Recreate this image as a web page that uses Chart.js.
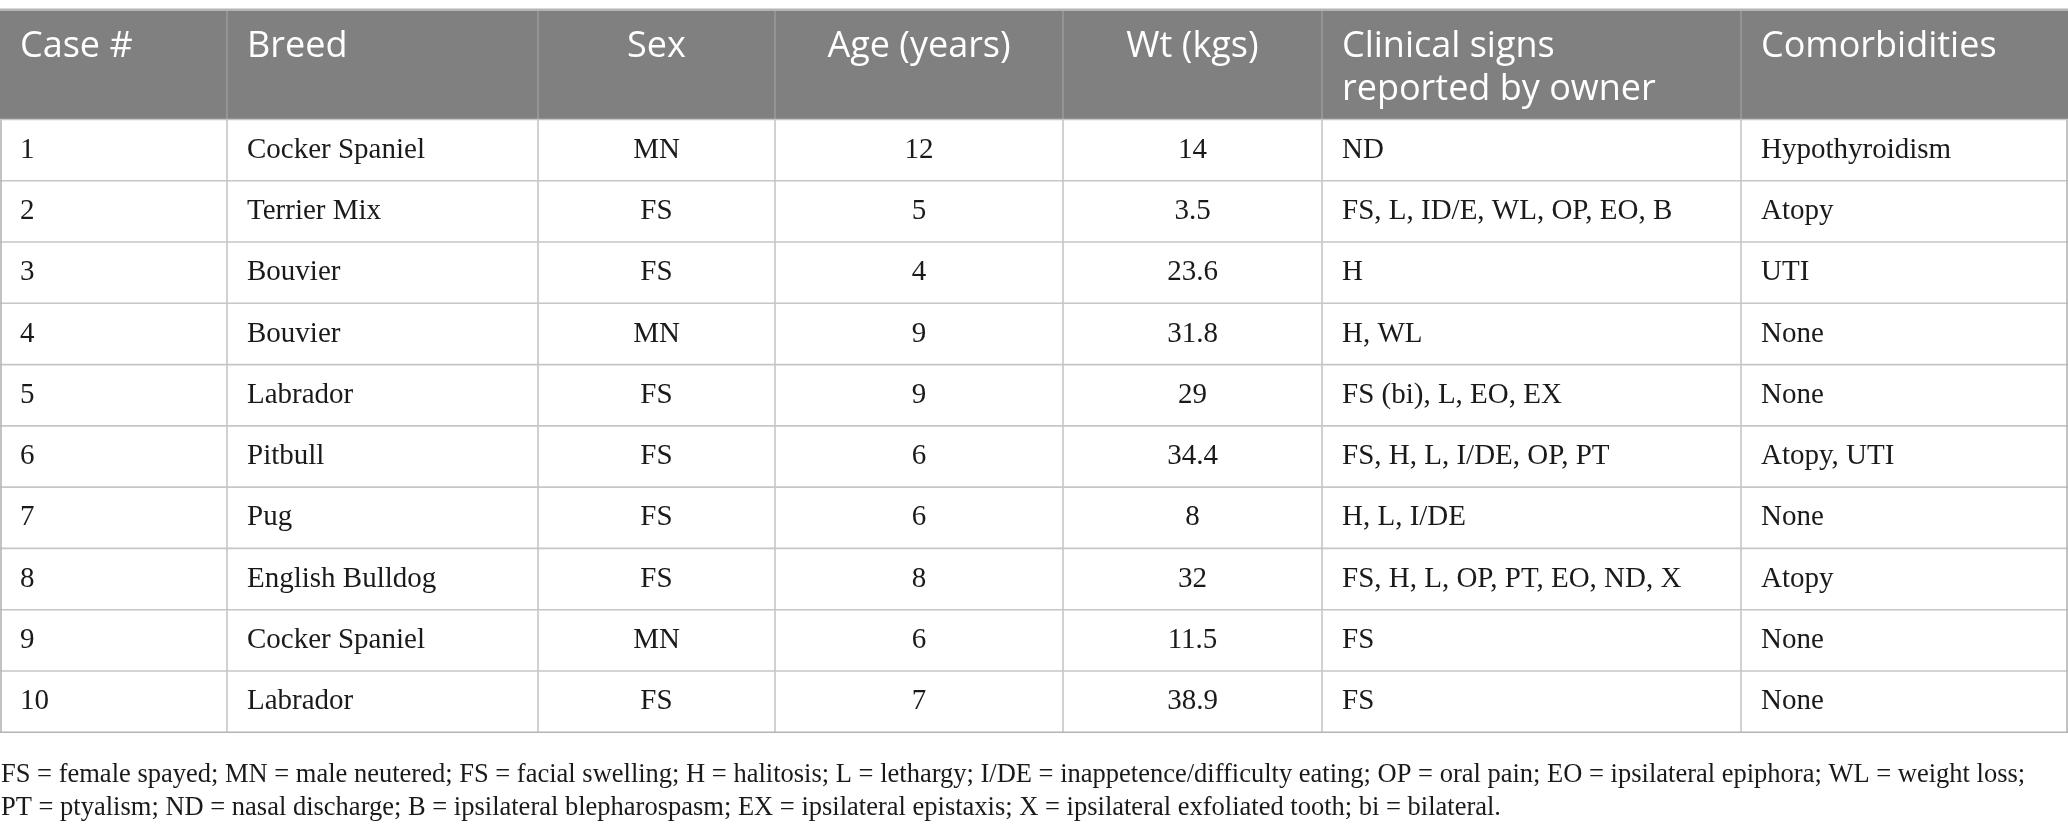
<!DOCTYPE html>
<html>
<head>
<meta charset="utf-8">
<script src="https://cdn.jsdelivr.net/npm/chart.js@4"></script>
<style>
  html, body { margin: 0; padding: 0; background: #ffffff; }
  #wrap { width: 2068px; height: 826px; }
</style>
</head>
<body>
<div id="wrap"><canvas id="table-chart" width="2068" height="826"></canvas></div>
<script>
// Table content
const headers = ['Case #', 'Breed', 'Sex', 'Age (years)', 'Wt (kgs)', 'Clinical signs\nreported by owner', 'Comorbidities'];
const caseNums = ['1', '2', '3', '4', '5', '6', '7', '8', '9', '10'];
const breeds = ['Cocker Spaniel', 'Terrier Mix', 'Bouvier', 'Bouvier', 'Labrador', 'Pitbull', 'Pug', 'English Bulldog', 'Cocker Spaniel', 'Labrador'];
const sexes = ['MN', 'FS', 'FS', 'MN', 'FS', 'FS', 'FS', 'FS', 'MN', 'FS'];
const ages = ['12', '5', '4', '9', '9', '6', '6', '8', '6', '7'];
const weights = ['14', '3.5', '23.6', '31.8', '29', '34.4', '8', '32', '11.5', '38.9'];
const clinicalSigns = ['ND', 'FS, L, ID/E, WL, OP, EO, B', 'H', 'H, WL', 'FS (bi), L, EO, EX', 'FS, H, L, I/DE, OP, PT', 'H, L, I/DE', 'FS, H, L, OP, PT, EO, ND, X', 'FS', 'FS'];
const comorbidities = ['Hypothyroidism', 'Atopy', 'UTI', 'None', 'None', 'Atopy, UTI', 'None', 'Atopy', 'None', 'None'];
const footnotes = [
    'FS = female spayed; MN = male neutered; FS = facial swelling; H = halitosis; L = lethargy; I/DE = inappetence/difficulty eating; OP = oral pain; EO = ipsilateral epiphora; WL = weight loss;',
    'PT = ptyalism; ND = nasal discharge; B = ipsilateral blepharospasm; EX = ipsilateral epistaxis; X = ipsilateral exfoliated tooth; bi = bilateral.'
];

// Layout (x in column units of the x scale, y in row units of the y scale)
const colWidths = [227, 311, 237, 288, 259, 419, 327];
const colAlign = ['left', 'left', 'center', 'center', 'center', 'left', 'left'];
const headerSpan = 1.78;
const cellPad = 20;

const columns = [caseNums, breeds, sexes, ages, weights, clinicalSigns, comorbidities];
const colEdges = colWidths.reduce((acc, w) => { acc.push(acc[acc.length - 1] + w); return acc; }, [0]);

const tablePlugin = {
    id: 'tableDraw',
    afterDraw(chart) {
        const ctx = chart.ctx;
        const xs = chart.scales.x;
        const ys = chart.scales.y;
        const left = xs.getPixelForValue(0);
        const right = xs.getPixelForValue(colEdges[colEdges.length - 1]);
        const headTop = ys.getPixelForValue(-headerSpan);
        const headBottom = ys.getPixelForValue(0);
        const tableBottom = ys.getPixelForValue(caseNums.length);

        ctx.save();

        // header band
        ctx.fillStyle = '#7f807f';
        ctx.fillRect(left, headTop, right - left, headBottom - headTop);

        // header text
        ctx.fillStyle = '#ffffff';
        ctx.font = '36px "Open Sans", "Noto Sans", sans-serif';
        ctx.textBaseline = 'middle';
        headers.forEach((h, c) => {
            const lines = h.split('\n');
            lines.forEach((line, k) => {
                const yy = ys.getPixelForValue(-1.18 + k * 0.69);
                drawCellText(ctx, xs, c, line, yy);
            });
        });

        // body text
        ctx.fillStyle = '#1a1a1a';
        ctx.font = '29px "Liberation Serif", "DejaVu Serif", serif';
        columns.forEach((col, c) => {
            col.forEach((val, r) => {
                drawCellText(ctx, xs, c, val, ys.getPixelForValue(r + 0.5));
            });
        });

        // grid lines
        ctx.strokeStyle = '#c6c6c6';
        ctx.lineWidth = 1.6;
        for (let r = 1; r < caseNums.length; r++) {
            const yy = ys.getPixelForValue(r);
            ctx.beginPath(); ctx.moveTo(left, yy); ctx.lineTo(right, yy); ctx.stroke();
        }
        for (let c = 1; c < colEdges.length - 1; c++) {
            const xx = xs.getPixelForValue(colEdges[c]);
            ctx.beginPath(); ctx.moveTo(xx, headBottom); ctx.lineTo(xx, tableBottom); ctx.stroke();
        }
        // separators inside header
        ctx.strokeStyle = 'rgba(205,205,205,0.45)';
        ctx.lineWidth = 1.2;
        for (let c = 1; c < colEdges.length - 1; c++) {
            const xx = xs.getPixelForValue(colEdges[c]);
            ctx.beginPath(); ctx.moveTo(xx, headTop); ctx.lineTo(xx, headBottom); ctx.stroke();
        }

        // outer border
        ctx.strokeStyle = '#b4b4b4';
        ctx.lineWidth = 1.6;
        ctx.beginPath(); ctx.moveTo(left, headTop - 1); ctx.lineTo(right, headTop - 1); ctx.stroke();
        ctx.beginPath(); ctx.moveTo(left, tableBottom); ctx.lineTo(right, tableBottom); ctx.stroke();
        ctx.beginPath(); ctx.moveTo(left + 1, headBottom); ctx.lineTo(left + 1, tableBottom); ctx.stroke();
        ctx.beginPath(); ctx.moveTo(right - 1, headBottom); ctx.lineTo(right - 1, tableBottom); ctx.stroke();
        ctx.strokeStyle = '#c6c6c6';
        ctx.beginPath(); ctx.moveTo(left, headBottom); ctx.lineTo(right, headBottom); ctx.stroke();

        // footnotes
        ctx.fillStyle = '#1a1a1a';
        ctx.font = '26.5px "Liberation Serif", "DejaVu Serif", serif';
        ctx.textAlign = 'left';
        footnotes.forEach((line, k) => {
            ctx.fillText(line, left + 1, ys.getPixelForValue(10.7 + k * 0.54));
        });

        ctx.restore();
    }
};

function drawCellText(ctx, xs, c, text, yy) {
    const x0 = xs.getPixelForValue(colEdges[c]);
    const x1 = xs.getPixelForValue(colEdges[c + 1]);
    if (colAlign[c] === 'center') {
        ctx.textAlign = 'center';
        ctx.fillText(text, (x0 + x1) / 2, yy);
    } else {
        ctx.textAlign = 'left';
        ctx.fillText(text, x0 + cellPad, yy);
    }
}

new Chart(document.getElementById('table-chart'), {
    type: 'scatter',
    data: { datasets: [{ data: [] }] },
    options: {
        responsive: false,
        animation: false,
        devicePixelRatio: 1,
        layout: { padding: 0 },
        plugins: { legend: { display: false }, tooltip: { enabled: false } },
        scales: {
            x: { type: 'linear', display: false, min: 0, max: colEdges[colEdges.length - 1] },
            y: { type: 'linear', display: false, reverse: true, min: -1.95, max: 11.53 }
        }
    },
    plugins: [tablePlugin]
});
</script>
</body>
</html>
